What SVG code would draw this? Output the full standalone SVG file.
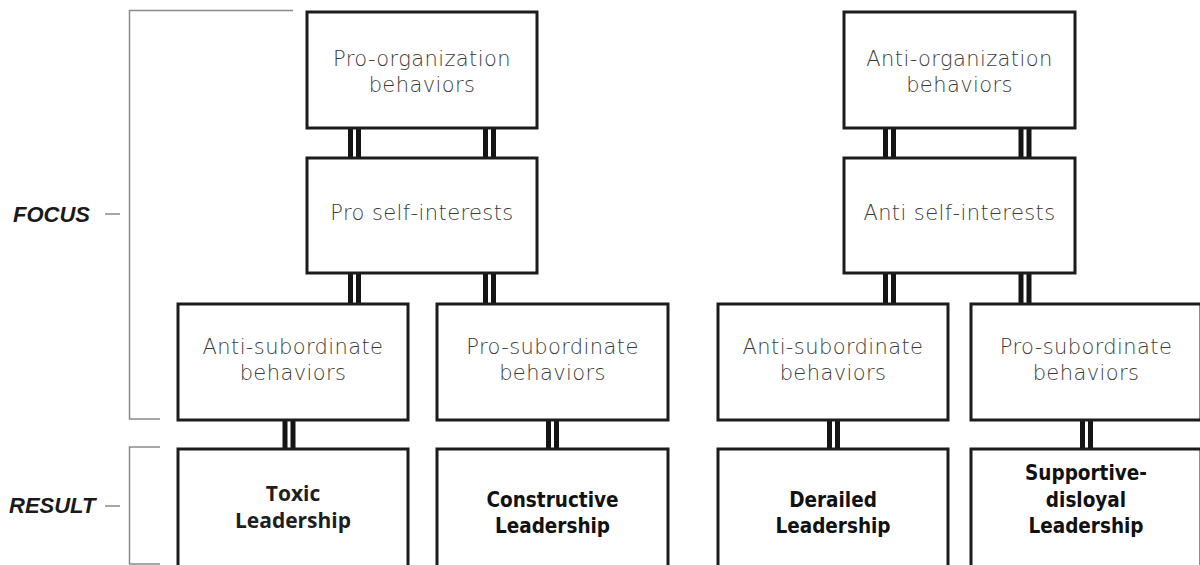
<svg xmlns="http://www.w3.org/2000/svg" width="1200" height="565" viewBox="0 0 1200 565">
  <style>
    .box { fill: #ffffff; stroke: #1c1c1c; stroke-width: 3; }
    .lbl { font-family: "DejaVu Sans", "Noto Sans", sans-serif; font-weight: 200; font-size: 21px; letter-spacing: 0.4px; fill: #3a3a3a; text-anchor: middle; }
    .res { font-family: "DejaVu Sans Condensed", "DejaVu Sans", sans-serif; font-stretch: condensed; font-weight: bold; font-size: 20.5px; fill: #111111; text-anchor: middle; }
    .res2 { font-family: "Open Sans", "Noto Sans", sans-serif; font-weight: bold; font-size: 21px; fill: #1e1e1e; text-anchor: middle; }
    .side { font-family: "Liberation Sans", Arial, sans-serif; font-weight: bold; font-style: italic; font-size: 22px; fill: #1a1a1a; }
    .brk { fill: none; stroke: #8a8a8a; stroke-width: 1.5; }
    .bar { fill: none; stroke: #141414; stroke-width: 5; }
  </style>
  <rect width="1200" height="565" fill="#ffffff"/>

  <!-- side brackets and labels -->
  <g id="focus-bracket">
    <path class="brk" d="M293,10.5 H129.5 V419 H160"/>
    <path class="brk" d="M105,214 H120"/>
    <text class="side" x="13" y="222">FOCUS</text>
  </g>
  <g id="result-bracket">
    <path class="brk" d="M160,447 H129.5 V564 H160"/>
    <path class="brk" d="M105,506 H120"/>
    <text class="side" x="9" y="513">RESULT</text>
  </g>

  <!-- double-bar connectors -->
  <g id="connectors">
    <path class="bar" d="M350.5,129 V157 M358.5,129 V157"/>
    <path class="bar" d="M485.5,129 V157 M493.5,129 V157"/>
    <path class="bar" d="M350.5,274 V303 M358.5,274 V303"/>
    <path class="bar" d="M485.5,274 V303 M493.5,274 V303"/>
    <path class="bar" d="M285,421 V448 M293,421 V448"/>
    <path class="bar" d="M548.5,421 V448 M556.5,421 V448"/>
    <path class="bar" d="M885.5,129 V157 M893.5,129 V157"/>
    <path class="bar" d="M1021,129 V157 M1029,129 V157"/>
    <path class="bar" d="M885.5,274 V303 M893.5,274 V303"/>
    <path class="bar" d="M1021,274 V303 M1029,274 V303"/>
    <path class="bar" d="M829.5,421 V448 M837.5,421 V448"/>
    <path class="bar" d="M1082.5,421 V448 M1090.5,421 V448"/>
  </g>

  <!-- left tree -->
  <g id="pro-organization">
    <rect class="box" x="307" y="12" width="230" height="116"/>
    <text class="lbl" x="422" y="65.5">Pro-organization</text>
    <text class="lbl" x="422" y="91.5">behaviors</text>
  </g>
  <g id="pro-self-interests">
    <rect class="box" x="307" y="158" width="230" height="115"/>
    <text class="lbl" x="422" y="220">Pro self-interests</text>
  </g>
  <g id="left-anti-subordinate">
    <rect class="box" x="178" y="304" width="230" height="116"/>
    <text class="lbl" x="293" y="354">Anti-subordinate</text>
    <text class="lbl" x="293" y="380">behaviors</text>
  </g>
  <g id="left-pro-subordinate">
    <rect class="box" x="437" y="304" width="231" height="116"/>
    <text class="lbl" x="552.5" y="354">Pro-subordinate</text>
    <text class="lbl" x="552.5" y="380">behaviors</text>
  </g>
  <g id="toxic-leadership">
    <rect class="box" x="178" y="449" width="230" height="130"/>
    <text class="res2" x="293" y="501">Toxic</text>
    <text class="res2" x="293" y="528">Leadership</text>
  </g>
  <g id="constructive-leadership">
    <rect class="box" x="437" y="449" width="231" height="130"/>
    <text class="res" x="552.5" y="507">Constructive</text>
    <text class="res" x="552.5" y="533">Leadership</text>
  </g>

  <!-- right tree -->
  <g id="anti-organization">
    <rect class="box" x="844" y="12" width="231" height="116"/>
    <text class="lbl" x="959.5" y="65.5">Anti-organization</text>
    <text class="lbl" x="959.5" y="91.5">behaviors</text>
  </g>
  <g id="anti-self-interests">
    <rect class="box" x="844" y="158" width="231" height="115"/>
    <text class="lbl" x="959.5" y="220">Anti self-interests</text>
  </g>
  <g id="right-anti-subordinate">
    <rect class="box" x="718" y="304" width="230" height="116"/>
    <text class="lbl" x="833" y="354">Anti-subordinate</text>
    <text class="lbl" x="833" y="380">behaviors</text>
  </g>
  <g id="right-pro-subordinate">
    <rect class="box" x="971" y="304" width="230" height="116"/>
    <text class="lbl" x="1086" y="354">Pro-subordinate</text>
    <text class="lbl" x="1086" y="380">behaviors</text>
  </g>
  <g id="derailed-leadership">
    <rect class="box" x="718" y="449" width="230" height="130"/>
    <text class="res" x="833" y="507">Derailed</text>
    <text class="res" x="833" y="533">Leadership</text>
  </g>
  <g id="supportive-disloyal-leadership">
    <rect class="box" x="971" y="449" width="230" height="130"/>
    <text class="res" x="1086" y="480">Supportive-</text>
    <text class="res" x="1086" y="507">disloyal</text>
    <text class="res" x="1086" y="533">Leadership</text>
  </g>
</svg>
